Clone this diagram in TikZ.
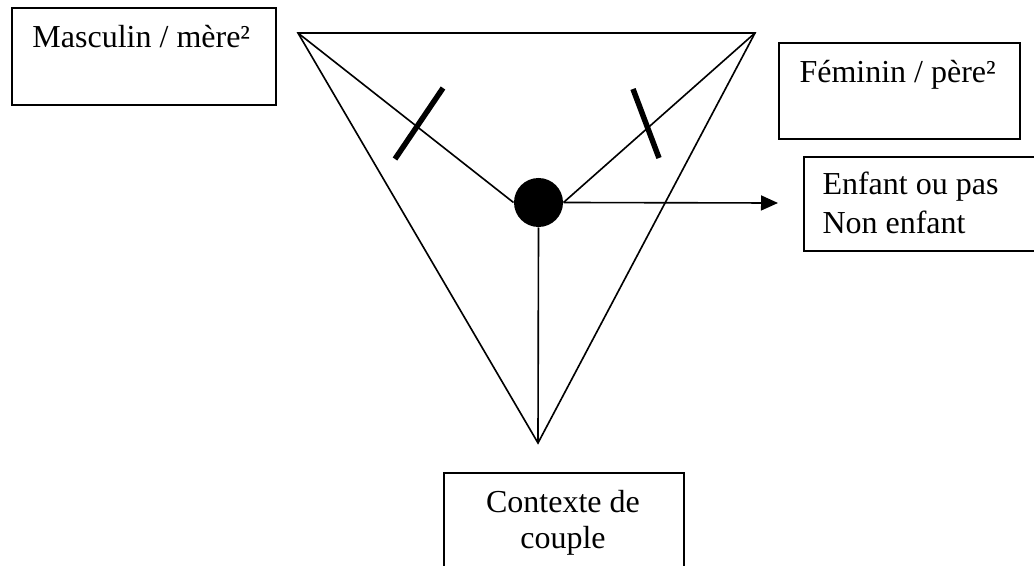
\documentclass[tikz,border=0pt]{standalone}
\usepackage{fontspec}
\setmainfont{Liberation Serif}
\usetikzlibrary{arrows.meta}
\tikzset{
  thinline/.style={line width=0.65pt},
  boxframe/.style={draw, line width=0.8pt, rectangle, inner sep=0pt, anchor=north west},
  lbl/.style={anchor=base west, inner sep=0pt, font=\fontsize{12.8}{15.4}\selectfont},
  clbl/.style={anchor=base, inner sep=0pt, font=\fontsize{12.8}{15.4}\selectfont},
  tickmark/.style={line width=2.2pt},
  dotnode/.style={circle, fill=black, draw=none, minimum size=19.6pt, inner sep=0pt}
}
\begin{document}
\begin{tikzpicture}[x=0.4pt,y=-0.4pt]
\useasboundingbox (0,0) rectangle (1034,566);
\clip (0,0) rectangle (1034,566);
% boxes
\node[boxframe, minimum width=105.6pt, minimum height=38.8pt] (mbox) at (11,7) {};
\node[boxframe, minimum width=96.4pt, minimum height=38.4pt] (fbox) at (778,42) {};
\node[boxframe, minimum width=100pt, minimum height=37.6pt] (ebox) at (803,156) {};
\node[boxframe, minimum width=96pt, minimum height=60pt] (cbox) at (443,472) {};
% labels
\node[lbl] (mtxt) at (32,48) {Masculin / mère²};
\node[lbl] (ftxt) at (799,83) {Féminin / père²};
\node[lbl] (etxt1) at (822,195) {Enfant ou pas};
\node[lbl] (etxt2) at (822,233) {Non enfant};
\node[clbl] (ctxt1) at (563,512) {Contexte de};
\node[clbl] (ctxt2) at (563,548) {couple};
% triangle
\coordinate (A) at (298,33);
\coordinate (B) at (755,33);
\coordinate (C) at (538,443);
\draw[thinline, line join=miter] (A) -- (B) -- (C) -- cycle;
% centre dot
\node[dotnode] (dot) at (538.5,202.5) {};
\draw[thinline] (A) -- (dot.west);
\draw[thinline] (B) -- (dot.east);
\draw[thinline] (dot.south) -- (C);
\coordinate (arrowend) at (778,203);
\draw[thinline, -{Triangle[length=6.8pt,width=6pt]}] (dot.east) -- (arrowend);
% tick marks
\coordinate (t1a) at (395,159);
\coordinate (t1b) at (443,88);
\coordinate (t2a) at (633,89);
\coordinate (t2b) at (659,158);
\draw[tickmark] (t1a) -- (t1b);
\draw[tickmark] (t2a) -- (t2b);
\end{tikzpicture}
\end{document}
